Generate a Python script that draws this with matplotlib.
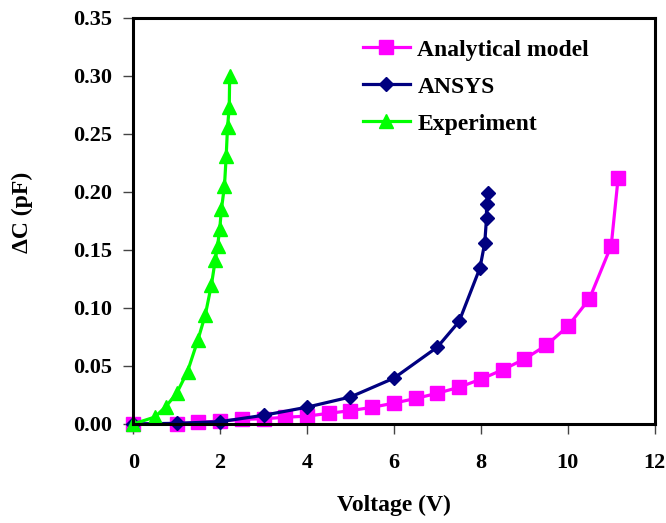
import matplotlib
matplotlib.use("Agg")
import matplotlib.pyplot as plt
from matplotlib.ticker import FormatStrFormatter, MultipleLocator

plt.rcParams['font.family'] = ['Liberation Serif', 'DejaVu Serif']
plt.rcParams['font.weight'] = 'bold'

# analytical model
v_model = [0, 1, 1.5, 2, 2.5, 3, 3.5, 4, 4.5, 5, 5.5, 6, 6.5, 7, 7.5, 8,
           8.5, 9, 9.5, 10, 10.5, 11, 11.16]
dc_model = [0.0, 0.0, 0.0015, 0.0025, 0.004, 0.0045, 0.0058, 0.0068, 0.0092,
            0.0115, 0.0144, 0.018, 0.022, 0.0265, 0.0317, 0.0386, 0.0467,
            0.0559, 0.0677, 0.0841, 0.108, 0.1538, 0.2124]

# ANSYS simulation
v_ansys = [0, 1, 2, 3, 4, 5, 6, 7, 7.5, 7.98, 8.09, 8.13, 8.13, 8.16]
dc_ansys = [0.0, 0.0006, 0.002, 0.0075, 0.0145, 0.0233, 0.0395, 0.0663,
            0.0884, 0.1346, 0.1562, 0.1772, 0.1899, 0.1988]

# measured
v_exp = [0, 0.5, 0.75, 1.0, 1.25, 1.49, 1.66, 1.80, 1.89, 1.94, 1.99, 2.03,
         2.10, 2.14, 2.17, 2.21, 2.22]
dc_exp = [0.0, 0.006, 0.015, 0.0265, 0.0452, 0.0726, 0.0942, 0.120, 0.1417,
          0.1532, 0.1677, 0.185, 0.2051, 0.231, 0.2556, 0.2729, 0.300]

fig = plt.figure(figsize=(6.66, 5.23), dpi=100)
ax = fig.add_axes([0.2, 0.1893, 0.783, 0.7763])

ax.plot(v_model, dc_model, color='#FF00FF', lw=2.3, marker='s', ms=9.5,
        mec='#FF00FF', label='Analytical model', clip_on=False)
ax.plot(v_ansys, dc_ansys, color='#000080', lw=2.3, marker='D', ms=7,
        mec='#000080', label='ANSYS', clip_on=False)
ax.plot(v_exp, dc_exp, color='#00FF00', lw=2.3, marker='^', ms=9.5,
        mec='#00FF00', label='Experiment', clip_on=False)

ax.set_xlim(0, 12)
ax.set_ylim(0, 0.35)
ax.xaxis.set_major_locator(MultipleLocator(2))
ax.yaxis.set_major_locator(MultipleLocator(0.05))
ax.yaxis.set_major_formatter(FormatStrFormatter('%.2f'))
ax.tick_params(axis='x', direction='out', length=7, width=1, pad=14,
               labelsize=16, top=False, color='#444444')
ax.tick_params(axis='y', direction='out', length=7, width=1, pad=8,
               labelsize=16, right=False, color='#444444')
for s in ax.spines.values():
    s.set_linewidth(2.2)

ax.set_xlabel('Voltage (V)', fontsize=17, fontweight='bold')
ax.set_ylabel('ΔC (pF)', fontsize=17, fontweight='bold')
ax.xaxis.set_label_coords(0.5, -0.175)
ax.yaxis.set_label_coords(-0.192, 0.522)

fig.legend(loc='upper left', bbox_to_anchor=(0.5446, 0.925), frameon=False,
           fontsize=17, handlelength=2.0, handletextpad=0.32,
           labelspacing=0.65, borderpad=0, borderaxespad=0)

fig.savefig('out.png', dpi=100)
